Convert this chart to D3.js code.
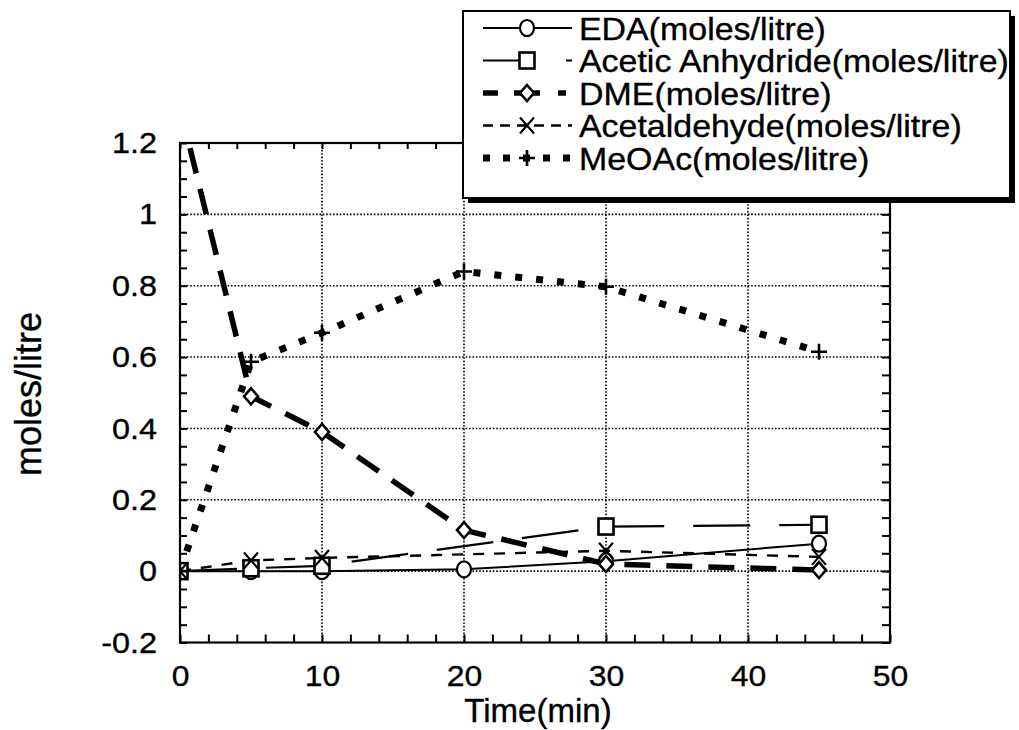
<!DOCTYPE html>
<html>
<head>
<meta charset="utf-8">
<script src="https://cdn.jsdelivr.net/npm/d3@7"></script>
<style>
  html, body { margin: 0; padding: 0; background: #fff; }
  svg { display: block; }
  text { font-family: "Liberation Sans", Arial, Helvetica, sans-serif; fill: #000; stroke: #000; stroke-width: 0.35px; }
</style>
</head>
<body>
<svg id="chart" width="1019" height="730"></svg>
<script>
// ---------- data ----------
const xTickValues = [0, 10, 20, 30, 40, 50];
const yTickValues = [-0.2, 0, 0.2, 0.4, 0.6, 0.8, 1, 1.2];
const xGridValues = [10, 20, 30, 40];
const yGridValues = [0, 0.2, 0.4, 0.6, 0.8, 1];

const edaTimes = [0, 5, 10, 20, 30, 45];
const edaValues = [0, 0, 0, 0.005, 0.028, 0.077];

const anhydrideTimes = [0, 5, 10, 30, 45];
const anhydrideValues = [0, 0.008, 0.015, 0.125, 0.13];

const dmeTimes = [0, 5, 10, 20, 30, 45];
const dmeValues = [1.30, 0.49, 0.39, 0.115, 0.02, 0.003];

const acetaldehydeTimes = [0, 5, 10, 30, 45];
const acetaldehydeValues = [0, 0.03, 0.037, 0.057, 0.04];

const meoacTimes = [0, 5, 10, 20, 30, 45];
const meoacValues = [0, 0.587, 0.668, 0.84, 0.797, 0.615];

const seriesNames = [
  "EDA(moles/litre)",
  "Acetic Anhydride(moles/litre)",
  "DME(moles/litre)",
  "Acetaldehyde(moles/litre)",
  "MeOAc(moles/litre)"
];

// ---------- layout ----------
const svg = d3.select("#chart");
const X0 = 180, X1 = 890, Y0 = 642.5, Y1 = 143;
const x = d3.scaleLinear().domain([0, 50]).range([X0, X1]);
const y = d3.scaleLinear().domain([-0.2, 1.2]).range([Y0, Y1]);

function stretch(sel, f) {
  sel.each(function () {
    const w = this.getComputedTextLength();
    this.setAttribute("textLength", (w * f).toFixed(2));
    this.setAttribute("lengthAdjust", "spacingAndGlyphs");
  });
}

svg.append("defs").append("clipPath").attr("id", "plotclip")
  .append("rect").attr("x", X0).attr("y", Y1).attr("width", X1 - X0).attr("height", Y0 - Y1);

// grid
const grid = svg.append("g").attr("stroke", "#000").attr("stroke-width", 1.6)
  .attr("stroke-dasharray", "1.6,1.8");
grid.selectAll("line.gx").data(xGridValues).join("line")
  .attr("x1", d => x(d)).attr("x2", d => x(d)).attr("y1", Y1).attr("y2", Y0);
grid.selectAll("line.gy").data(yGridValues).join("line")
  .attr("y1", d => y(d)).attr("y2", d => y(d)).attr("x1", X0).attr("x2", X1);

// minor ticks (inward) on all four sides
const minorX = d3.range(0, 50.001, 2);
const minorY = d3.range(-0.2, 1.2001, 0.05);
function tickAxis(axis, tx, ty) {
  const g = svg.append("g").attr("transform", `translate(${tx},${ty})`)
    .call(axis.tickFormat("").tickSizeOuter(0));
  g.select(".domain").remove();
  g.selectAll(".tick line").attr("stroke", "#000").attr("stroke-width", 2);
  return g;
}
tickAxis(d3.axisLeft(y).tickValues(minorY).tickSizeInner(-7), X0, 0);
tickAxis(d3.axisRight(y).tickValues(minorY).tickSizeInner(-8), X1, 0);
tickAxis(d3.axisTop(x).tickValues(minorX).tickSizeInner(-6), 0, Y1);
tickAxis(d3.axisBottom(x).tickValues(minorX).tickSizeInner(-8), 0, Y0);

// frame
svg.append("rect").attr("x", X0).attr("y", Y1).attr("width", X1 - X0).attr("height", Y0 - Y1)
  .attr("fill", "none").attr("stroke", "#000").attr("stroke-width", 2.2);

// tick labels
const yl = svg.append("g").attr("transform", `translate(${X0},0)`)
  .call(d3.axisLeft(y).tickValues(yTickValues).tickSize(0).tickPadding(23).tickFormat(d => String(d)));
yl.select(".domain").remove();
yl.selectAll("text").attr("font-size", 30).attr("font-family", null).attr("fill", null);
stretch(yl.selectAll("text"), 1.08);

const xl = svg.append("g").attr("transform", `translate(0,${Y0})`)
  .call(d3.axisBottom(x).tickValues(xTickValues).tickSize(0).tickPadding(23).tickFormat(d => String(d)));
xl.select(".domain").remove();
xl.selectAll("text").attr("font-size", 29).attr("font-family", null).attr("fill", null);
stretch(xl.selectAll("text"), 1.1);

// axis titles
svg.append("text").attr("x", 538).attr("y", 722).attr("text-anchor", "middle")
  .attr("font-size", 33).text("Time(min)");
svg.append("text").attr("transform", "translate(41,394) rotate(-90)").attr("text-anchor", "middle")
  .attr("font-size", 36).text("moles/litre");

// ---------- series ----------
const styles = [
  { times: edaTimes, values: edaValues, width: 2, dash: null, marker: "circle" },
  { times: anhydrideTimes, values: anhydrideValues, width: 2.2, dash: "57,29", marker: "square" },
  { times: dmeTimes, values: dmeValues, width: 5.5, dash: "26,16", marker: "diamond" },
  { times: acetaldehydeTimes, values: acetaldehydeValues, width: 2.4, dash: "11,10", marker: "cross" },
  { times: meoacTimes, values: meoacValues, width: 7, dash: "7,14", marker: "plus" }
];

const line = d3.line().x(d => x(d[0])).y(d => y(d[1]));
const plot = svg.append("g").attr("clip-path", "url(#plotclip)");

function drawMarker(g, type, cx, cy) {
  if (type === "circle") {
    g.append("ellipse").attr("cx", cx).attr("cy", cy).attr("rx", 7).attr("ry", 8)
      .attr("fill", "#fff").attr("stroke", "#000").attr("stroke-width", 2.2);
  } else if (type === "square") {
    g.append("rect").attr("x", cx - 7.5).attr("y", cy - 8).attr("width", 15).attr("height", 16)
      .attr("fill", "#fff").attr("stroke", "#000").attr("stroke-width", 2.6);
  } else if (type === "diamond") {
    g.append("path").attr("d", `M${cx},${cy - 8}L${cx + 7},${cy}L${cx},${cy + 8}L${cx - 7},${cy}Z`)
      .attr("fill", "#fff").attr("stroke", "#000").attr("stroke-width", 2.6);
  } else if (type === "cross") {
    g.append("path").attr("d", `M${cx - 7},${cy - 8}L${cx + 7},${cy + 8}M${cx + 7},${cy - 8}L${cx - 7},${cy + 8}`)
      .attr("fill", "none").attr("stroke", "#000").attr("stroke-width", 2.2);
  } else if (type === "plus") {
    g.append("path").attr("d", `M${cx - 8},${cy}L${cx + 8},${cy}M${cx},${cy - 8}L${cx},${cy + 8}`)
      .attr("fill", "none").attr("stroke", "#000").attr("stroke-width", 2.6);
  }
}

styles.forEach(s => {
  const pts = s.times.map((t, i) => [t, s.values[i]]);
  plot.append("path").attr("d", line(pts)).attr("fill", "none").attr("stroke", "#000")
    .attr("stroke-width", s.width).attr("stroke-dasharray", s.dash);
});
styles.forEach(s => {
  const g = plot.append("g");
  s.times.forEach((t, i) => drawMarker(g, s.marker, x(t), y(s.values[i])));
});

// ---------- legend ----------
const lg = svg.append("g");
const LX = 463, LY = 11, LW = 547, LH = 187;
lg.append("rect").attr("x", LX + 5).attr("y", LY + 5).attr("width", LW).attr("height", LH).attr("fill", "#000");
lg.append("rect").attr("x", LX).attr("y", LY).attr("width", LW).attr("height", LH)
  .attr("fill", "#fff").attr("stroke", "#000").attr("stroke-width", 2);

const legendDash = [null, "40,43,6", "15,16,26,18,8", "10,7", "7,13"];
seriesNames.forEach((name, i) => {
  const cy = 28 + i * 32.5;
  const s = styles[i];
  lg.append("line").attr("x1", 483).attr("x2", 572).attr("y1", cy).attr("y2", cy)
    .attr("stroke", "#000").attr("stroke-width", s.width).attr("stroke-dasharray", legendDash[i]);
  drawMarker(lg, s.marker, 527, cy);
  const t = lg.append("text").attr("x", 579).attr("y", cy).attr("dy", "0.36em")
    .attr("font-size", 32).text(name);
  stretch(t, 1.06);
});
</script>
</body>
</html>
